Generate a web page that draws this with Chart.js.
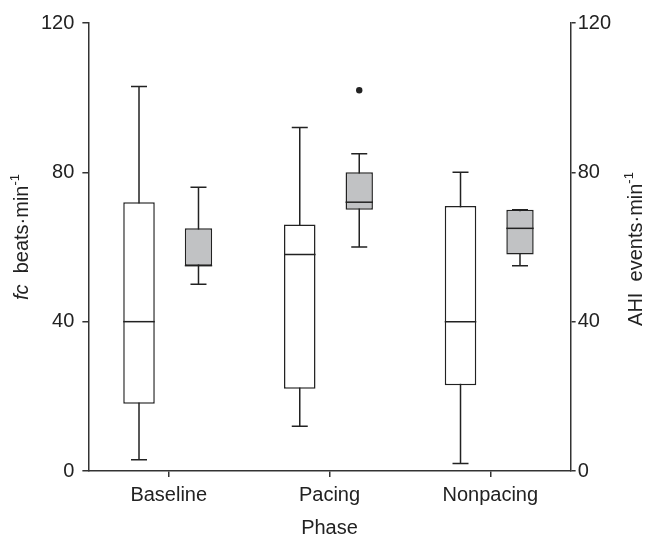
<!DOCTYPE html>
<html lang="en">
    <head>
        <meta charset="UTF-8">
        <title>fc and AHI by phase</title>
        <script src="https://cdn.jsdelivr.net/npm/chart.js@4.4.0/dist/chart.umd.min.js"></script>
        <style>
            html, body { margin: 0; padding: 0; background: #fff; }
            #wrap { width: 649px; height: 537px; }
        </style>
    </head>
    <body>
        <div id="wrap"><canvas id="boxChart"></canvas></div>

        <script>
            const phases = ["Baseline", "Pacing", "Nonpacing"];
            const yTicks = [0, 40, 80, 120];

            // AHI events/min (white boxes, right axis)
            const ahiMin = [3, 12, 2];
            const ahiQ1 = [18, 22, 23];
            const ahiMedian = [40, 58, 40];
            const ahiQ3 = [72, 66, 71];
            const ahiMax = [103, 92, 80];
            const ahiOutliers = [[], [], []];

            // fc beats/min (grey boxes, left axis)
            const fcMin = [50, 60, 55];
            const fcQ1 = [55, 70, 58];
            const fcMedian = [55, 72, 65];
            const fcQ3 = [65, 80, 70];
            const fcMax = [76, 85, 70];
            const fcOutliers = [[], [102], []];

            const FONT = "'Liberation Sans', Arial, sans-serif";
            const SIZE = 20;
            const INK = "#222";

            const stats = [
                {min: ahiMin, median: ahiMedian, max: ahiMax, outliers: ahiOutliers},
                {min: fcMin, median: fcMedian, max: fcMax, outliers: fcOutliers}
            ];

            // whiskers go behind the boxes, medians and outliers on top
            const boxExtras = {
                id: "boxExtras",
                beforeDatasetsDraw(chart) {
                    const ctx = chart.ctx;
                    ctx.save();
                    ctx.strokeStyle = INK;
                    ctx.lineWidth = 1.5;
                    chart.data.datasets.forEach((ds, d) => {
                        const meta = chart.getDatasetMeta(d);
                        const y = chart.scales[ds.yAxisID];
                        meta.data.forEach((bar, i) => {
                            const x = bar.x;
                            const top = y.getPixelForValue(stats[d].max[i]);
                            const bot = y.getPixelForValue(stats[d].min[i]);
                            ctx.beginPath();
                            ctx.moveTo(x, top); ctx.lineTo(x, bot);
                            ctx.moveTo(x - 8, top); ctx.lineTo(x + 8, top);
                            ctx.moveTo(x - 8, bot); ctx.lineTo(x + 8, bot);
                            ctx.stroke();
                        });
                    });
                    ctx.restore();
                },
                afterDatasetsDraw(chart) {
                    const ctx = chart.ctx;
                    ctx.save();
                    ctx.strokeStyle = INK;
                    ctx.fillStyle = INK;
                    ctx.lineWidth = 1.5;
                    chart.data.datasets.forEach((ds, d) => {
                        const meta = chart.getDatasetMeta(d);
                        const y = chart.scales[ds.yAxisID];
                        meta.data.forEach((bar, i) => {
                            const half = bar.width / 2;
                            const my = y.getPixelForValue(stats[d].median[i]);
                            ctx.beginPath();
                            ctx.moveTo(bar.x - half, my); ctx.lineTo(bar.x + half, my);
                            ctx.stroke();
                            stats[d].outliers[i].forEach(v => {
                                ctx.beginPath();
                                ctx.arc(bar.x, y.getPixelForValue(v), 3.2, 0, Math.PI * 2);
                                ctx.fill();
                            });
                        });
                    });
                    ctx.restore();
                }
            };

            // rotated y titles with italic fc and superscript -1
            function drawTitle(ctx, cx, cy, parts) {
                ctx.save();
                ctx.translate(cx, cy);
                ctx.rotate(-Math.PI / 2);
                ctx.textBaseline = "middle";
                ctx.fillStyle = INK;
                let total = 0;
                parts.forEach(p => { ctx.font = p.font; total += ctx.measureText(p.text).width; });
                let x = -total / 2;
                parts.forEach(p => {
                    ctx.font = p.font;
                    ctx.fillText(p.text, x, p.dy || 0);
                    x += ctx.measureText(p.text).width;
                });
                ctx.restore();
            }

            const axisTitles = {
                id: "axisTitles",
                afterDraw(chart) {
                    drawTitle(chart.ctx, 22, 237, [
                        {text: "fc", font: "italic " + SIZE + "px " + FONT},
                        {text: "  beats\u00b7min", font: SIZE + "px " + FONT},
                        {text: "-1", font: "13px " + FONT, dy: -7}
                    ]);
                    drawTitle(chart.ctx, 636, 249, [
                        {text: "AHI  events\u00b7min", font: SIZE + "px " + FONT},
                        {text: "-1", font: "13px " + FONT, dy: -7}
                    ]);
                }
            };

            const yScale = (pos, tickLen, pad) => ({
                type: "linear",
                position: pos,
                min: 0,
                max: 120,
                afterBuildTicks: (s) => { s.ticks = yTicks.map(v => ({value: v})); },
                border: {display: true, color: "#333", width: 1.5},
                grid: {drawOnChartArea: false, color: "#333", lineWidth: 1.5, tickLength: tickLen},
                ticks: {color: INK, padding: pad, font: {family: FONT, size: SIZE}}
            });

            new Chart("boxChart", {
                type: "bar",
                data: {
                    labels: phases,
                    datasets: [{
                        label: "AHI events\u00b7min-1",
                        data: ahiQ1.map((q, i) => [q, ahiQ3[i]]),
                        yAxisID: "y1",
                        backgroundColor: "#ffffff",
                        borderColor: INK,
                        borderWidth: 1.5,
                        borderSkipped: false,
                        barPercentage: 0.53,
                        categoryPercentage: 0.74
                    }, {
                        label: "fc beats\u00b7min-1",
                        data: fcQ1.map((q, i) => [q, fcQ3[i]]),
                        yAxisID: "y",
                        backgroundColor: "#c1c2c4",
                        borderColor: INK,
                        borderWidth: 1.5,
                        borderSkipped: false,
                        barPercentage: 0.46,
                        categoryPercentage: 0.74
                    }]
                },
                options: {
                    responsive: true,
                    maintainAspectRatio: false,
                    animation: false,
                    layout: {padding: {left: 33, right: 36, top: 23, bottom: -3}},
                    plugins: {legend: {display: false}, tooltip: {enabled: false}},
                    scales: {
                        x: {
                            grid: {display: true, drawOnChartArea: false, offset: false, color: "#333", lineWidth: 1.5, tickLength: 6},
                            border: {display: true, color: "#333", width: 1.5},
                            ticks: {color: INK, padding: 6, font: {family: FONT, size: SIZE}},
                            title: {display: true, text: "Phase", color: INK, padding: {top: 3, bottom: 0}, font: {family: FONT, size: SIZE}}
                        },
                        y: yScale("left", 6, 8),
                        y1: yScale("right", 5, 2)
                    }
                },
                plugins: [boxExtras, axisTitles]
            });
        </script>
    </body>
</html>
